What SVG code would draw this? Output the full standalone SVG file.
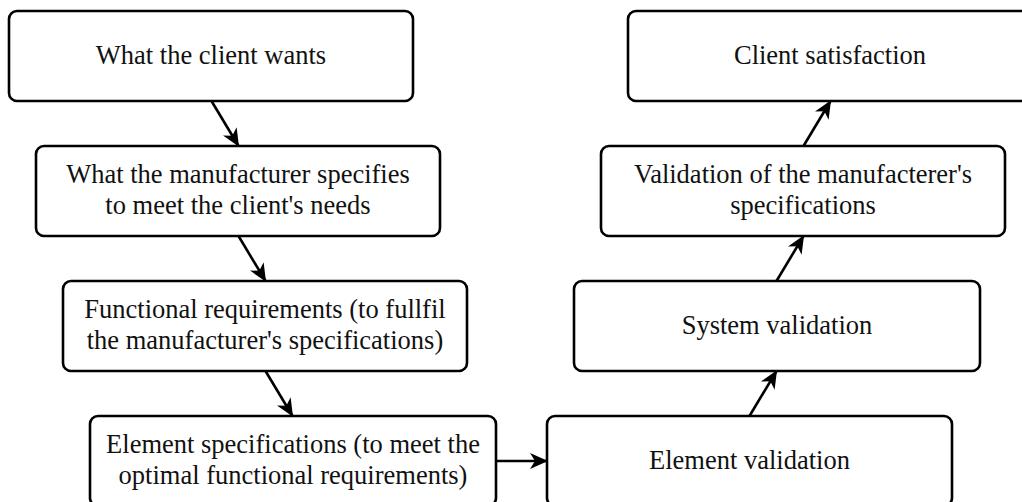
<svg xmlns="http://www.w3.org/2000/svg" width="1022" height="502" viewBox="0 0 1022 502">
<style>
.box{fill:#fff;stroke:#000;stroke-width:2.6}
.t{font-family:"Liberation Serif","DejaVu Serif",serif;font-size:26.5px;fill:#111;text-anchor:middle}
.c{stroke:#000;stroke-width:2.6;fill:none}
</style>
<defs>
<marker id="ah" markerUnits="userSpaceOnUse" viewBox="0 0 18 16" markerWidth="18" markerHeight="16" refX="17" refY="8" orient="auto">
<path d="M0,0 L18,8 L0,16 L5,8 z" fill="#000"/>
</marker>
</defs>
<rect width="1022" height="502" fill="#fff"/>
<g id="connectors">
<line class="c" x1="211.5" y1="101" x2="238.5" y2="146" marker-end="url(#ah)"/>
<line class="c" x1="238.5" y1="236" x2="265.5" y2="281" marker-end="url(#ah)"/>
<line class="c" x1="265.5" y1="371" x2="292.5" y2="416" marker-end="url(#ah)"/>
<line class="c" x1="495" y1="461" x2="547" y2="461" marker-end="url(#ah)"/>
<line class="c" x1="749.5" y1="416" x2="776.5" y2="371" marker-end="url(#ah)"/>
<line class="c" x1="776.5" y1="281" x2="803.5" y2="236" marker-end="url(#ah)"/>
<line class="c" x1="803.5" y1="146" x2="830.5" y2="101" marker-end="url(#ah)"/>
</g>
<g id="n1"><rect class="box" x="9" y="11" width="404" height="90" rx="8"/><text class="t" x="211" y="64">What the client wants</text></g>
<g id="n2"><rect class="box" x="36" y="146" width="404" height="90" rx="8"/><text class="t" x="238" y="183">What the manufacturer specifies</text><text class="t" x="238" y="214">to meet the client's needs</text></g>
<g id="n3"><rect class="box" x="63" y="281" width="404" height="90" rx="8"/><text class="t" x="265" y="318">Functional requirements (to fullfil</text><text class="t" x="265" y="349">the manufacturer's specifications)</text></g>
<g id="n4"><rect class="box" x="90" y="416" width="406" height="90" rx="8"/><text class="t" x="293" y="453">Element specifications (to meet the</text><text class="t" x="293" y="484">optimal functional requirements)</text></g>
<g id="n5"><rect class="box" x="547" y="416" width="405" height="90" rx="8"/><text class="t" x="749.5" y="469">Element validation</text></g>
<g id="n6"><rect class="box" x="574" y="281" width="406" height="90" rx="8"/><text class="t" x="777" y="334">System validation</text></g>
<g id="n7"><rect class="box" x="601" y="146" width="404" height="90" rx="8"/><text class="t" x="803" y="183">Validation of the manufacterer's</text><text class="t" x="803" y="214">specifications</text></g>
<g id="n8"><rect class="box" x="628" y="11" width="405" height="90" rx="8"/><text class="t" x="830" y="64">Client satisfaction</text></g>
</svg>
